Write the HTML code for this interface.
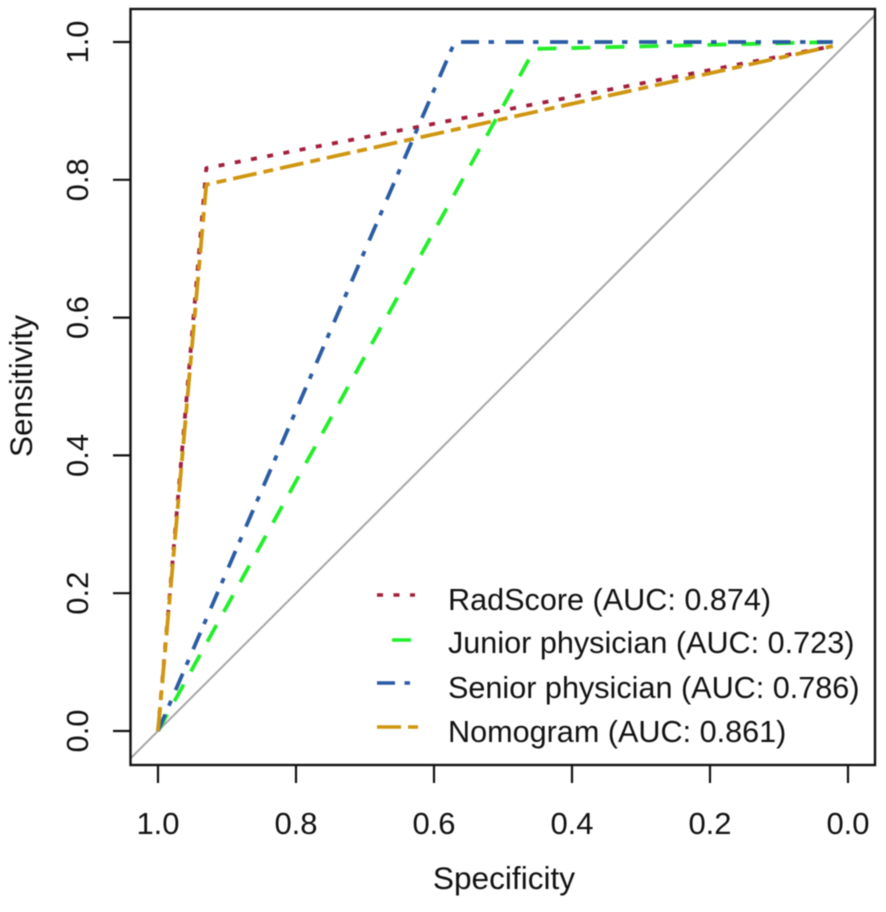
<!DOCTYPE html>
<html>
<head>
<meta charset="utf-8">
<title>ROC curves</title>
<style>
html,body{margin:0;padding:0;background:#fff;width:886px;height:912px;overflow:hidden}
svg{display:block;font-family:"Liberation Sans",sans-serif;fill:#111;filter:blur(0.45px)}
</style>
</head>
<body>
<svg id="chart" width="886" height="912" viewBox="0 0 886 912" xmlns="http://www.w3.org/2000/svg"></svg>
<script>
const xTicks = [1.0, 0.8, 0.6, 0.4, 0.2, 0.0];
const yTicks = [0.0, 0.2, 0.4, 0.6, 0.8, 1.0];
const seriesNames = ['RadScore', 'Junior physician', 'Senior physician', 'Nomogram'];
const aucValues = [0.874, 0.723, 0.786, 0.861];
const radScoreSpec = [1.0, 0.93, 0.022];
const radScoreSens = [0.0, 0.817, 0.994];
const juniorSpec = [1.0, 0.454, 0.022];
const juniorSens = [0.0, 0.99, 1.0];
const seniorSpec = [1.0, 0.57, 0.022];
const seniorSens = [0.0, 1.0, 1.0];
const nomogramSpec = [1.0, 0.93, 0.022];
const nomogramSens = [0.0, 0.793, 0.994];

const NS = 'http://www.w3.org/2000/svg';
const svg = document.getElementById('chart');
const sx = v => 848 - v * 690;
const sy = v => 731 - v * 689;
const box = {l: 130.5, r: 875, t: 9, b: 765};
const styles = [
  {color: '#a31f3c', dash: '6 10.5', legend: [377, 415]},
  {color: '#22ee2a', dash: '19 15', legend: [392, 412]},
  {color: '#2a5ba3', dash: '18 9.5 5.5 11.5', legend: [377, 411]},
  {color: '#cf9610', dash: '24 7 10 7', legend: [377, 419]}
];
const xsList = [radScoreSpec, juniorSpec, seniorSpec, nomogramSpec];
const ysList = [radScoreSens, juniorSens, seniorSens, nomogramSens];
const slug = s => s.toLowerCase().replace(/\s+/g, '-');
const dataMinX = (848 - box.l) / 690;
const dataMaxX = (848 - box.r) / 690;

function make(tag, attrs, parent) {
  const el = document.createElementNS(NS, tag);
  for (const k in attrs) el.setAttribute(k, attrs[k]);
  (parent || svg).appendChild(el);
  return el;
}

const diag = make('line', {x1: sx(dataMinX), y1: sy(1 - dataMinX), x2: sx(dataMaxX), y2: sy(1 - dataMaxX), stroke: '#a6a6a6', 'stroke-width': 2});



seriesNames.forEach((name, i) => {
  const pts = xsList[i].map((v, j) => sx(v).toFixed(1) + ',' + sy(ysList[i][j]).toFixed(1)).join(' ');
  const line = make('polyline', {points: pts, fill: 'none', stroke: styles[i].color, 'stroke-width': 3.8, 'stroke-dasharray': styles[i].dash, 'stroke-linejoin': 'round'});
  
  
});

const frame = make('rect', {x: box.l, y: box.t, width: box.r - box.l, height: box.b - box.t, fill: 'none', stroke: '#111', 'stroke-width': 2.4});



xTicks.forEach(v => {
  const t = make('line', {x1: sx(v), x2: sx(v), y1: box.b, y2: 783, stroke: '#111', 'stroke-width': 2.2});
  
  
  const l = make('text', {x: sx(v), y: 834, 'text-anchor': 'middle', 'font-size': 31});
  l.textContent = v.toFixed(1);
  
  
});

yTicks.forEach(v => {
  const t = make('line', {x1: 113, x2: box.l, y1: sy(v), y2: sy(v), stroke: '#111', 'stroke-width': 2.2});
  
  
  const l = make('text', {transform: 'translate(88 ' + sy(v) + ') rotate(-90)', 'text-anchor': 'middle', 'font-size': 31});
  l.textContent = v.toFixed(1);
  
  
});

const xTitle = make('text', {x: 504, y: 889, 'text-anchor': 'middle', 'font-size': 31.6});
xTitle.textContent = 'Specificity';



const yTitle = make('text', {transform: 'translate(32 386) rotate(-90)', 'text-anchor': 'middle', 'font-size': 31.6});
yTitle.textContent = 'Sensitivity';



const legendLineY = [595, 640, 683, 727];
const legendTextY = [610, 653, 698, 742];
seriesNames.forEach((name, i) => {
  const g = make('g', {});
  
  
  const k = make('line', {x1: styles[i].legend[0], x2: styles[i].legend[1], y1: legendLineY[i], y2: legendLineY[i], stroke: styles[i].color, 'stroke-width': 3.6, 'stroke-dasharray': styles[i].dash}, g);
  
  
  const t = make('text', {x: 448, y: legendTextY[i], 'font-size': 30.6});
  g.appendChild(t);
  t.textContent = name + ' (AUC: ' + aucValues[i].toFixed(3) + ')';
  
  
});
</script>
</body>
</html>
